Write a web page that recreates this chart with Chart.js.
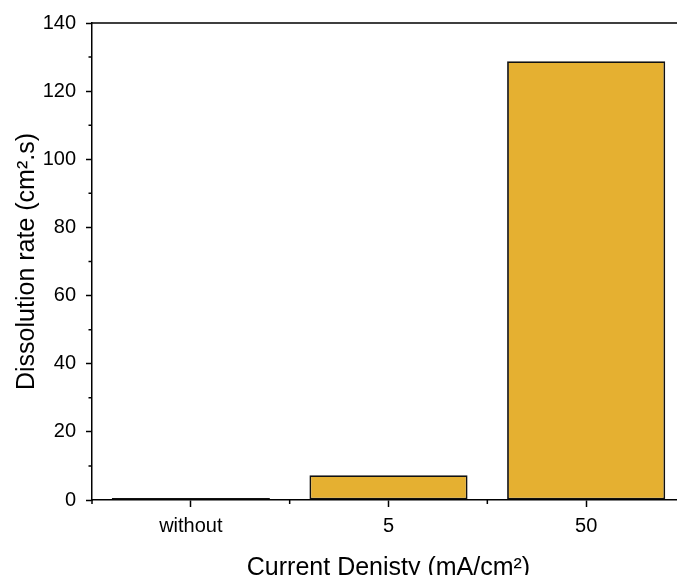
<!DOCTYPE html>
<html>
<head>
<meta charset="utf-8">
<script src="https://cdn.jsdelivr.net/npm/chart.js@4.4.1/dist/chart.umd.min.js"></script>
<style>
  html, body { margin: 0; padding: 0; overflow: hidden; background: #fff; }
  canvas { display: block; }
</style>
</head>
<body>
<canvas id="grafica" width="700" height="590"></canvas>
<script>
const categorias = ['without', '5', '50'];
const tasaDisolucion = [0.6, 7.3, 128.8];
const ticksY = [0, 20, 40, 60, 80, 100, 120, 140];
const ticksMenoresY = [10, 30, 50, 70, 90, 110, 130];

const fuente = 'Arial, "Liberation Sans", sans-serif';

// ticks menores y marco superior/derecho
const marcoYTicks = {
  id: 'marcoYTicks',
  afterDraw(chart) {
    const { ctx, chartArea: a, scales } = chart;
    ctx.save();
    ctx.strokeStyle = '#000';
    ctx.lineWidth = 1.5;
    ctx.beginPath();
    ctx.moveTo(a.left, a.top);
    ctx.lineTo(a.right, a.top);
    ctx.lineTo(a.right, a.bottom);
    ticksMenoresY.forEach(v => {
      const y = scales.y.getPixelForValue(v);
      ctx.moveTo(a.left, y);
      ctx.lineTo(a.left - 3.5, y);
    });
    const paso = (a.right - a.left) / categorias.length;
    for (let i = 0; i <= categorias.length; i++) {
      const x = a.left + paso * i;
      ctx.moveTo(x, a.bottom);
      ctx.lineTo(x, a.bottom + 4);
    }
    ctx.stroke();
    ctx.restore();
  }
};

new Chart(document.getElementById('grafica'), {
  type: 'bar',
  data: {
    labels: categorias,
    datasets: [{
      data: tasaDisolucion,
      backgroundColor: '#E5B031',
      borderColor: '#111',
      borderWidth: 1.8,
      borderSkipped: false,
      barPercentage: 0.8,
      categoryPercentage: 1.0
    }]
  },
  options: {
    responsive: false,
    animation: false,
    devicePixelRatio: 1,
    layout: { padding: { top: 23, right: 15, left: 0, bottom: 0 } },
    plugins: { legend: { display: false }, tooltip: { enabled: false } },
    scales: {
      x: {
        afterFit: s => { s.height = 90; },
        grid: { display: true, drawOnChartArea: false, offset: false, tickLength: 7, tickColor: '#000', tickWidth: 1.5 },
        border: { color: '#000', width: 1.5 },
        ticks: { color: '#000', padding: 7, font: { family: fuente, size: 20 } },
        title: {
          display: true,
          text: 'Current Denisty (mA/cm\u00b2)',
          color: '#000',
          font: { family: fuente, size: 25 },
          padding: { top: 0, bottom: 7 }
        }
      },
      y: {
        min: 0,
        max: 140,
        afterFit: s => { s.width = 92; },
        afterBuildTicks: s => { s.ticks = ticksY.map(v => ({ value: v })); },
        grid: { display: true, drawOnChartArea: false, tickLength: 6, tickColor: '#000', tickWidth: 1.5 },
        border: { color: '#000', width: 1.5 },
        ticks: { color: '#000', padding: 10, font: { family: fuente, size: 20 } },
        title: {
          display: true,
          text: 'Dissolution rate (cm\u00b2.s)',
          color: '#000',
          font: { family: fuente, size: 25 },
          padding: { top: 12, bottom: 0 }
        }
      }
    }
  },
  plugins: [marcoYTicks]
});
</script>
</body>
</html>
